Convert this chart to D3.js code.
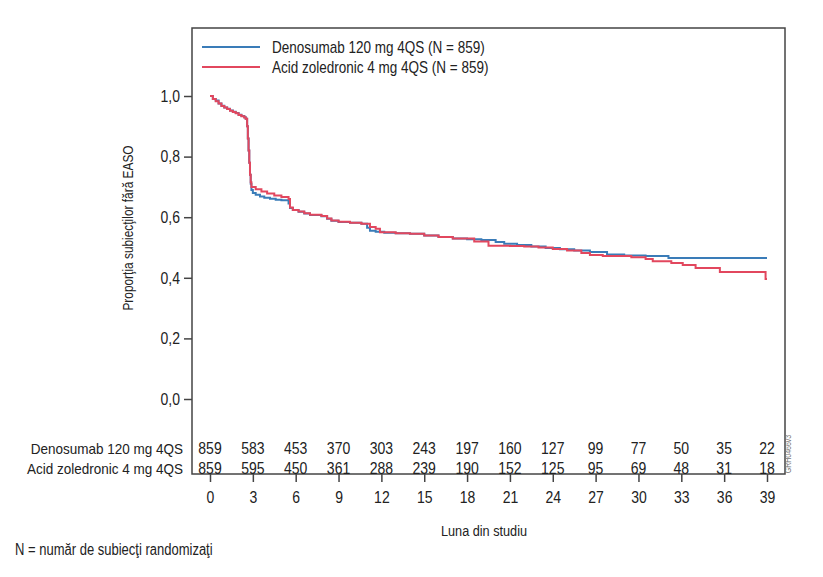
<!DOCTYPE html>
<html>
<head>
<meta charset="utf-8">
<script src="https://cdn.jsdelivr.net/npm/d3@7"></script>
<style>
  html, body { margin: 0; padding: 0; background: #fff; }
  svg text { font-family: "Liberation Sans", Arial, sans-serif; fill: #222; }
</style>
</head>
<body>
<svg id="chart" width="823" height="577"></svg>
<script>
// series names
var seriesNames = ['Denosumab 120 mg 4QS (N = 859)', 'Acid zoledronic 4 mg 4QS (N = 859)'];
var rowLabels = ['Denosumab 120 mg 4QS', 'Acid zoledronic 4 mg 4QS'];

// Kaplan-Meier steps: month, proportion
var denoMonths = [0, 0.2, 0.4, 0.6, 0.8, 1.0, 1.2, 1.4, 1.6, 1.8, 2.0, 2.2, 2.4, 2.5, 2.6, 2.65, 2.7, 2.75, 2.8, 2.85, 2.9, 3.0, 3.2, 3.5, 3.8, 4.2, 4.6, 5.0, 5.5, 5.6, 5.8, 6.2, 6.6, 7.0, 7.8, 8.2, 8.5, 9.0, 9.8, 10.6, 11.0, 11.2, 11.6, 12.2, 13.0, 14.0, 15.0, 16.0, 17.0, 18.0, 19.0, 20.0, 20.6, 21.5, 22.5, 23.5, 24.5, 25.5, 26.6, 27.8, 29.0, 30.5, 32.1, 39.0];
var denoSurv   = [1.0, 0.99, 0.985, 0.975, 0.968, 0.962, 0.958, 0.952, 0.948, 0.944, 0.938, 0.934, 0.93, 0.925, 0.90, 0.86, 0.82, 0.78, 0.74, 0.71, 0.69, 0.68, 0.674, 0.668, 0.664, 0.661, 0.658, 0.656, 0.645, 0.63, 0.624, 0.618, 0.612, 0.607, 0.603, 0.595, 0.588, 0.584, 0.582, 0.578, 0.565, 0.555, 0.552, 0.549, 0.547, 0.545, 0.54, 0.535, 0.53, 0.527, 0.525, 0.518, 0.512, 0.508, 0.503, 0.498, 0.494, 0.49, 0.485, 0.477, 0.474, 0.472, 0.465, 0.465];

var zolMonths = [0, 0.2, 0.4, 0.6, 0.8, 1.0, 1.2, 1.4, 1.6, 1.8, 2.0, 2.2, 2.4, 2.5, 2.6, 2.65, 2.7, 2.75, 2.8, 2.85, 2.9, 3.0, 3.2, 3.6, 4.0, 4.5, 5.0, 5.5, 5.6, 5.8, 6.2, 6.6, 7.0, 7.8, 8.2, 8.5, 9.0, 9.8, 10.6, 11.2, 11.6, 11.9, 13.0, 14.0, 15.0, 16.0, 17.0, 18.5, 19.5, 21.0, 22.0, 23.0, 24.0, 25.0, 26.0, 26.6, 27.5, 29.5, 30.5, 31.0, 32.3, 33.1, 34.0, 35.7, 38.9, 39.0];
var zolSurv   = [1.0, 0.99, 0.983, 0.975, 0.967, 0.962, 0.957, 0.951, 0.947, 0.943, 0.937, 0.933, 0.929, 0.925, 0.90, 0.86, 0.82, 0.78, 0.74, 0.715, 0.70, 0.70, 0.692, 0.685, 0.678, 0.672, 0.667, 0.66, 0.632, 0.624, 0.619, 0.613, 0.608, 0.604, 0.596, 0.589, 0.585, 0.582, 0.578, 0.568, 0.562, 0.55, 0.547, 0.545, 0.54, 0.535, 0.53, 0.52, 0.506, 0.505, 0.503, 0.5, 0.495, 0.49, 0.482, 0.475, 0.472, 0.468, 0.462, 0.455, 0.449, 0.442, 0.432, 0.419, 0.396, 0.396];

// number at risk
var riskMonths = [0, 3, 6, 9, 12, 15, 18, 21, 24, 27, 30, 33, 36, 39];
var denoRisk = [859, 583, 453, 370, 303, 243, 197, 160, 127, 99, 77, 50, 35, 22];
var zolRisk  = [859, 595, 450, 361, 288, 239, 190, 152, 125, 95, 69, 48, 31, 18];

var yTicks = [0, 0.2, 0.4, 0.6, 0.8, 1.0];
var colors = ['#3a7cb8', '#e2475e'];

var svg = d3.select('#chart');
var frame = { left: 192, right: 785, top: 28, bottom: 474 };
var TALL = 1.2; // the source font is a narrow one: taller glyphs at the same width

var x = d3.scaleLinear().domain([0, 39]).range([210, 767]);
var y = d3.scaleLinear().domain([0, 1]).range([399, 96]);

// squeeze a text: keep its width at size fs, draw glyphs at fs*k
function narrow(sel, fs, k) {
  k = k || TALL;
  sel.style('font-size', fs + 'px').each(function() {
    var w = this.getComputedTextLength();
    d3.select(this)
      .style('font-size', (fs * k) + 'px')
      .attr('textLength', w)
      .attr('lengthAdjust', 'spacingAndGlyphs');
  });
  return sel;
}

// frame
svg.append('rect')
  .attr('x', frame.left).attr('y', frame.top)
  .attr('width', frame.right - frame.left).attr('height', frame.bottom - frame.top)
  .attr('fill', 'none').attr('stroke', '#444').attr('stroke-width', 1.5);

// y axis
var yAxis = svg.append('g')
  .attr('transform', 'translate(' + frame.left + ',0)')
  .call(d3.axisLeft(y).tickValues(yTicks).tickSizeOuter(0).tickSize(8).tickPadding(4)
    .tickFormat(function(d) { return d3.format('.1f')(d).replace('.', ','); }));
yAxis.select('.domain').remove();
yAxis.selectAll('line').attr('stroke', '#444').attr('stroke-width', 1.5);
yAxis.selectAll('text').style('font-family', '"Liberation Sans", Arial, sans-serif').attr('fill', '#222');
narrow(yAxis.selectAll('text'), 14);

// x axis
var xAxis = svg.append('g')
  .attr('transform', 'translate(0,' + frame.bottom + ')')
  .call(d3.axisBottom(x).tickValues(riskMonths).tickSizeOuter(0).tickSize(8).tickPadding(9));
xAxis.select('.domain').remove();
xAxis.selectAll('line').attr('stroke', '#444').attr('stroke-width', 1.5);
xAxis.selectAll('text').style('font-family', '"Liberation Sans", Arial, sans-serif').attr('fill', '#222');
narrow(xAxis.selectAll('text'), 14);

// curves
var line = d3.line()
  .x(function(d) { return x(d[0]); })
  .y(function(d) { return y(d[1]); })
  .curve(d3.curveStepAfter);

var series = [
  d3.zip(denoMonths, denoSurv),
  d3.zip(zolMonths, zolSurv)
];
series.forEach(function(s, i) {
  svg.append('path')
    .datum(s)
    .attr('d', line)
    .attr('fill', 'none')
    .attr('stroke', colors[i])
    .attr('stroke-width', 2);
});

// legend
seriesNames.forEach(function(name, i) {
  var ly = 47 + i * 20;
  svg.append('line')
    .attr('x1', 202).attr('x2', 260).attr('y1', ly).attr('y2', ly)
    .attr('stroke', colors[i]).attr('stroke-width', 2);
  narrow(svg.append('text')
    .attr('x', 272).attr('y', ly + 5.5)
    .text(name), 13.5);
});

// y title
narrow(svg.append('text')
  .attr('transform', 'translate(133,228) rotate(-90)')
  .attr('text-anchor', 'middle')
  .text('Proporţia subiecţilor fără EASO'), 11.9);

// number at risk table
[denoRisk, zolRisk].forEach(function(row, i) {
  var by = 453.5 + i * 20;
  narrow(svg.append('text')
    .attr('x', 183).attr('y', by)
    .attr('text-anchor', 'end')
    .text(rowLabels[i]), 13.5, 1.15);
  narrow(svg.append('g').selectAll('text')
    .data(row)
    .join('text')
    .attr('x', function(d, j) { return x(riskMonths[j]); })
    .attr('y', by)
    .attr('text-anchor', 'middle')
    .text(function(d) { return d; }), 14, 1.15);
});

// x title
narrow(svg.append('text')
  .attr('x', 484).attr('y', 535.5)
  .attr('text-anchor', 'middle')
  .text('Luna din studiu'), 12.7);

// footnote
narrow(svg.append('text')
  .attr('x', 15).attr('y', 555)
  .text('N = număr de subiecţi randomizaţi'), 13);

// figure code
narrow(svg.append('text')
  .attr('transform', 'translate(791,454) rotate(-90)')
  .attr('text-anchor', 'middle')
  .style('fill', '#777')
  .text('GRH0466v3'), 7);
</script>
</body>
</html>
